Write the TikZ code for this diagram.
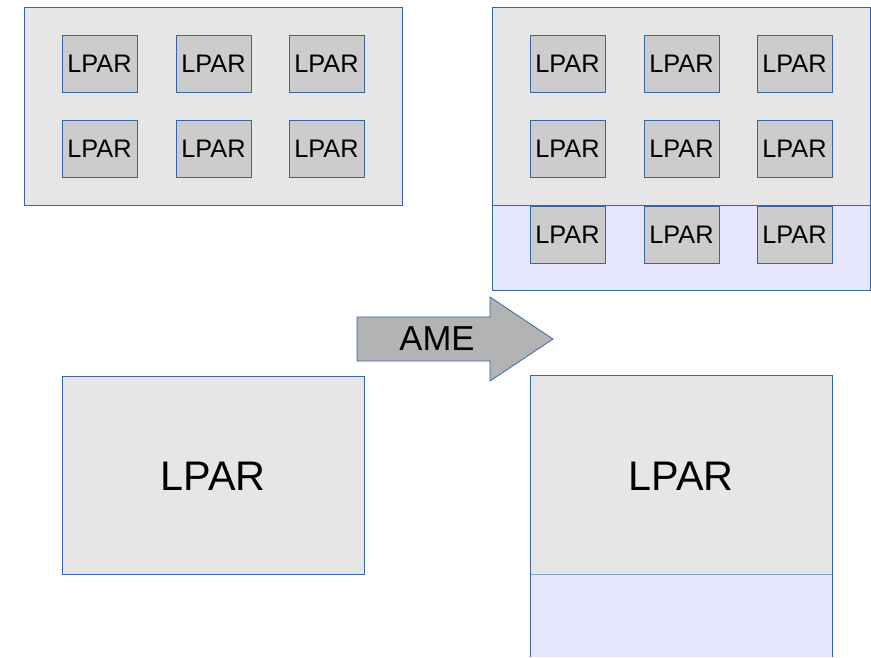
\documentclass[tikz,border=0pt]{standalone}
\usepackage{fontspec}
\setmainfont{Liberation Sans}
\usepackage{tikz}
\usetikzlibrary{positioning}

\definecolor{hostgray}{HTML}{E6E6E6}
\definecolor{lpargray}{HTML}{CCCCCC}
\definecolor{memblue}{HTML}{E6E6FF}
\definecolor{edgeblue}{HTML}{3465A4}
\definecolor{arrowgray}{HTML}{B3B3B3}

\tikzset{
  hostbox/.style={draw=edgeblue, fill=hostgray, line width=0.6pt},
  membox/.style={draw=edgeblue, fill=memblue, line width=0.6pt},
  lparbox/.style={draw=edgeblue, fill=lpargray, line width=0.6pt, inner sep=0pt,
    minimum width=56.25pt, minimum height=42.75pt, font=\fontsize{19}{19}\selectfont},
  biglpar/.style={inner sep=0pt, font=\fontsize{31}{31}\selectfont},
}

\begin{document}
\begin{tikzpicture}[x=0.75pt,y=0.75pt,yscale=-1,xscale=1]
\useasboundingbox (0,0) rectangle (871,657);

%Shape: Rectangle, host before
\draw[hostbox] (24,7) rectangle (402,205);
% LPAR boxes, host before
\node[lparbox] (la1) at (99.5,63.5) {LPAR};
\node[lparbox] (la2) at (213.5,63.5) {LPAR};
\node[lparbox] (la3) at (326.5,63.5) {LPAR};
\node[lparbox] (la4) at (99.5,148.5) {LPAR};
\node[lparbox] (la5) at (213.5,148.5) {LPAR};
\node[lparbox] (la6) at (326.5,148.5) {LPAR};

%Shape: Rectangle, host after
\draw[membox] (492,205) rectangle (870,290);
\draw[hostbox] (492,7) rectangle (870,205);
% LPAR boxes, host after
\node[lparbox] (lb1) at (567.5,63.5) {LPAR};
\node[lparbox] (lb2) at (681.5,63.5) {LPAR};
\node[lparbox] (lb3) at (794.5,63.5) {LPAR};
\node[lparbox] (lb4) at (567.5,148.5) {LPAR};
\node[lparbox] (lb5) at (681.5,148.5) {LPAR};
\node[lparbox] (lb6) at (794.5,148.5) {LPAR};
\node[lparbox] (lb7) at (567.5,234.5) {LPAR};
\node[lparbox] (lb8) at (681.5,234.5) {LPAR};
\node[lparbox] (lb9) at (794.5,234.5) {LPAR};

%Shape: Right Arrow
\draw[draw=edgeblue, fill=arrowgray, line width=0.6pt] (357,317) -- (490,317) -- (490,297) -- (553,339) -- (490,381) -- (490,361) -- (357,361) -- cycle;
\node[inner sep=0pt, font=\fontsize{26}{26}\selectfont] (ame) at (437,339) {AME};

%Shape: Rectangle, single LPAR before
\draw[hostbox] (62,376) rectangle (364,574);
\node[biglpar] (lc) at (213,476) {LPAR};

%Shape: Rectangle, single LPAR after
\fill[memblue] (530,574) rectangle (832,657);
\draw[draw=edgeblue!60, line width=0.6pt] (530,574) -- (832,574);
\draw[edgeblue, line width=0.6pt] (530,657) -- (530,574);
\draw[edgeblue, line width=0.6pt] (832,657) -- (832,574);
\fill[hostgray] (530,375) rectangle (832,574);
\draw[edgeblue, line width=0.6pt] (530,574) -- (530,375) -- (832,375) -- (832,574);
\node[biglpar] (ld) at (681,476) {LPAR};

\end{tikzpicture}
\end{document}
